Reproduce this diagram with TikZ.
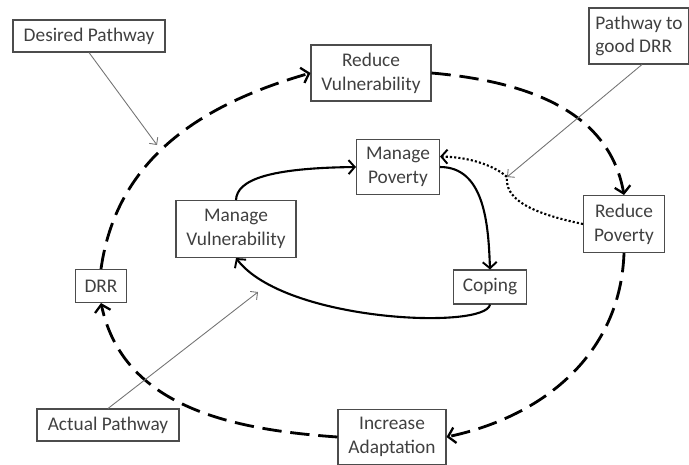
\documentclass[tikz,border=0pt]{standalone}
\usepackage{fontspec}
\setmainfont{Carlito}
\usetikzlibrary{arrows.meta}

\tikzset{
  box/.style={draw=black!70,line width=0.6pt,text=black!75,inner sep=0pt,
    font=\fontsize{11}{13.5}\selectfont},
  outer/.style={line width=1.6pt,dash pattern=on 11pt off 5pt,
    -{Straight Barb[length=4pt,width=9pt,line width=1.3pt]}},
  inner/.style={line width=1.2pt,-{Straight Barb[length=3.5pt,width=8pt,line width=1.1pt]}},
  dotlink/.style={line width=1.2pt,dash pattern=on 1.2pt off 1.2pt,
    -{Straight Barb[length=3.5pt,width=8pt,line width=1.1pt]}},
  pointer/.style={draw=black!55,line width=0.5pt,-{Straight Barb[length=3pt,width=6pt]}}
}

\begin{document}
\begin{tikzpicture}[x=0.02cm,y=-0.02cm,thick,every text node part/.style={align=center}]
    \useasboundingbox (0,0) rectangle (689,464);

    % --------------------------------------------------------- %
    % ------------- outer boxes (pathway to good DRR)
    % --------------------------------------------------------- %
    \node[box,minimum width=2.4cm,minimum height=1.12cm] (redvul) at (371,73) {Reduce\\Vulnerability};
    \node[box,minimum width=1.62cm,minimum height=1.14cm] (redpov) at (624,224) {Reduce\\Poverty};
    \node[box,minimum width=2.16cm,minimum height=1.1cm] (incad) at (392,437) {Increase\\Adaptation};
    \node[box,minimum width=1.02cm,minimum height=0.66cm] (drr) at (101,286) {DRR};

    % --------------------------------------------------------- %
    % ------------- inner boxes (actual pathway)
    % --------------------------------------------------------- %
    \node[box,minimum width=1.66cm,minimum height=1.1cm] (manpov) at (398,167) {Manage\\Poverty};
    \node[box,minimum width=1.46cm,minimum height=0.68cm] (coping) at (490,287) {Coping};
    \node[box,minimum width=2.4cm,minimum height=1.14cm] (manvul) at (236,229) {Manage\\Vulnerability};

    % --------------------------------------------------------- %
    % ------------- labels
    % --------------------------------------------------------- %
    \node[box,minimum width=3.04cm,minimum height=0.64cm] (desired) at (89,36) {Desired Pathway};
    \node[box,minimum width=2.84cm,minimum height=0.64cm] (actual) at (108,425) {Actual Pathway};
    \node[box,minimum width=2cm,minimum height=1.12cm,every text node part/.style={align=left}] (good) at (639,36) {Pathway to\\good DRR};

    % --------------------------------------------------------- %
    % ------------- outer loop (dashed)
    % --------------------------------------------------------- %
    \draw[outer] (drr.north) to[out=82,in=196] (redvul.west);
    \draw[outer] (redvul.east) to[out=-5,in=100] (redpov.north);
    \draw[outer] (redpov.south) to[out=-92,in=12] (incad.east);
    \draw[outer] (incad.west) to[out=176,in=-78] (drr.south);

    % --------------------------------------------------------- %
    % ------------- inner loop (solid)
    % --------------------------------------------------------- %
    \draw[inner] (manvul.north) .. controls (237,180) and (268,168) .. (manpov.west);
    \draw[inner] (manpov.east) to[out=0,in=92] (coping.north);
    \draw[inner] (coping.south) .. controls (486,330) and (285,322) .. (manvul.south);

    % ------------- dotted link back to the inner loop
    \coordinate (bend) at (507,177);
    \draw[dotlink] (redpov.west) .. controls (525,212) and (505,197) .. (bend)
                   .. controls (495,166) and (470,157) .. (manpov.14);

    % --------------------------------------------------------- %
    % ------------- pointers from the labels
    % --------------------------------------------------------- %
    \coordinate (desiredtip) at (157,145);
    \coordinate (actualtip) at (258,292);
    \draw[pointer] (desired.south) -- (desiredtip);
    \draw[pointer] (good.south) ++(3,0) -- (bend);
    \draw[pointer] (actual.north) -- (actualtip);

  \end{tikzpicture}
\end{document}
